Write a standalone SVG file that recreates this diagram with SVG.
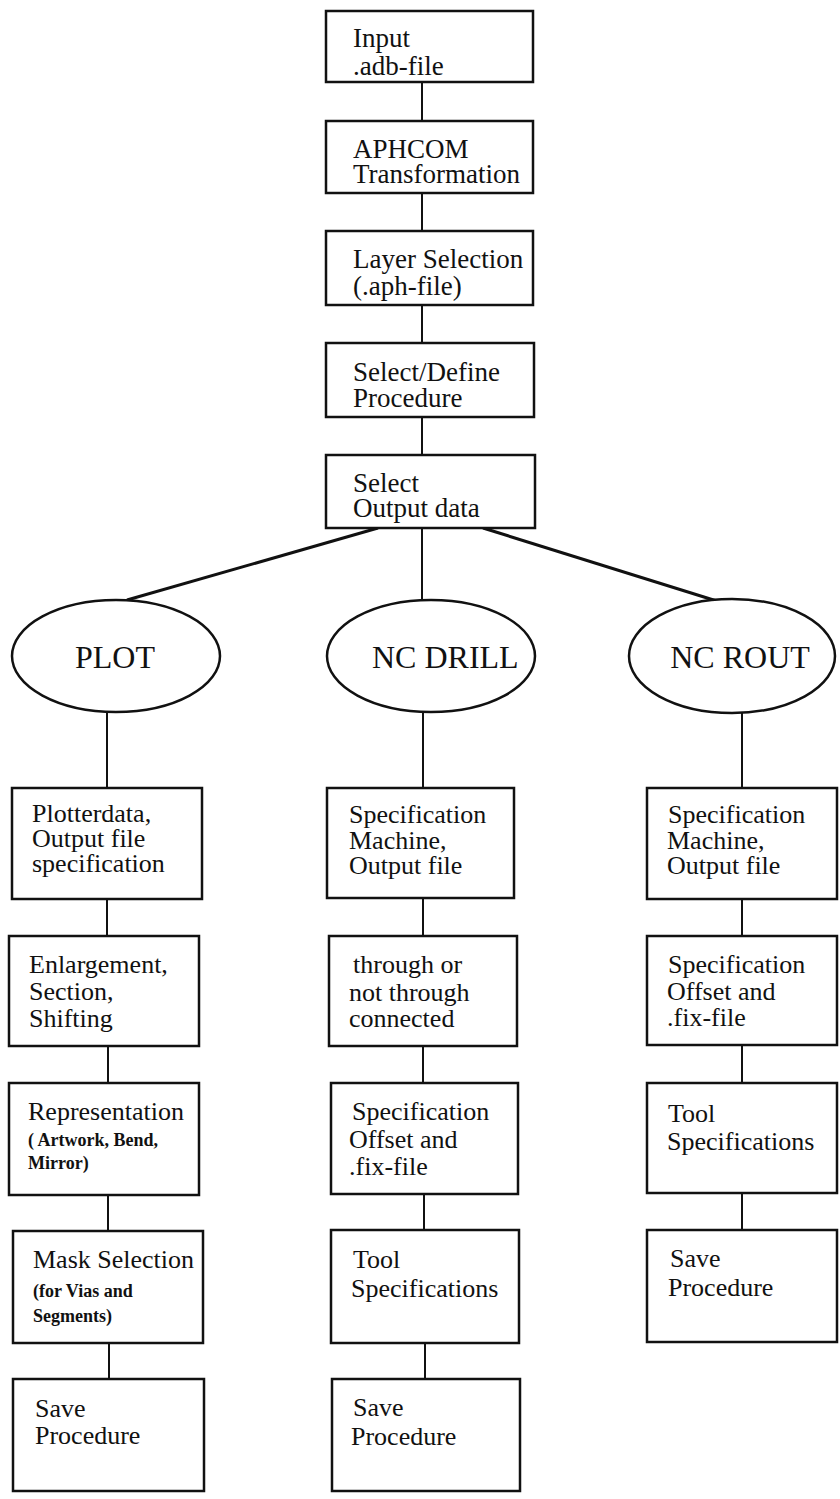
<svg xmlns="http://www.w3.org/2000/svg" width="840" height="1499" viewBox="0 0 840 1499">
<style>
.bg{fill:#fff}
.box{fill:#fff;stroke:#111;stroke-width:2.5}
.ell{fill:#fff;stroke:#111;stroke-width:2.5}
.ln{stroke:#111;stroke-width:2;fill:none}
.dg{stroke:#111;stroke-width:3;fill:none}
.h{font-family:"Liberation Serif","Times New Roman",serif;font-size:27px;fill:#111}
.t{font-family:"Liberation Serif","Times New Roman",serif;font-size:26px;fill:#111}
.e{font-family:"Liberation Serif","Times New Roman",serif;font-size:32px;fill:#111}
.s{font-family:"Liberation Serif","Times New Roman",serif;font-size:18px;font-weight:bold;fill:#111}
</style>
<rect class="bg" x="0" y="0" width="840" height="1499"/>
<g id="connectors">
<line class="ln" x1="422" y1="82" x2="422" y2="121"/>
<line class="ln" x1="422" y1="193" x2="422" y2="231"/>
<line class="ln" x1="422" y1="305" x2="422" y2="343"/>
<line class="ln" x1="422" y1="417" x2="422" y2="455"/>
<line class="dg" x1="378" y1="528" x2="127" y2="600"/>
<line class="ln" x1="422" y1="528" x2="422" y2="600"/>
<line class="dg" x1="483" y1="528" x2="720" y2="602"/>
<line class="ln" x1="107" y1="712" x2="107" y2="788"/>
<line class="ln" x1="107" y1="899" x2="107" y2="936"/>
<line class="ln" x1="108" y1="1046" x2="108" y2="1083"/>
<line class="ln" x1="108" y1="1195" x2="108" y2="1231"/>
<line class="ln" x1="109" y1="1343" x2="109" y2="1379"/>
<line class="ln" x1="423" y1="712" x2="423" y2="788"/>
<line class="ln" x1="423" y1="898" x2="423" y2="936"/>
<line class="ln" x1="423" y1="1046" x2="423" y2="1083"/>
<line class="ln" x1="424" y1="1194" x2="424" y2="1230"/>
<line class="ln" x1="425" y1="1343" x2="425" y2="1379"/>
<line class="ln" x1="742" y1="713" x2="742" y2="788"/>
<line class="ln" x1="742" y1="899" x2="742" y2="936"/>
<line class="ln" x1="742" y1="1045" x2="742" y2="1083"/>
<line class="ln" x1="742" y1="1193" x2="742" y2="1230"/>
</g>
<g id="n-input"><rect class="box" x="326" y="11" width="207" height="71"/><text class="h" x="353" y="47">Input</text><text class="h" x="353" y="75">.adb-file</text></g>
<g id="n-aphcom"><rect class="box" x="326" y="121" width="207" height="72"/><text class="h" x="353" y="158">APHCOM</text><text class="h" x="353" y="183">Transformation</text></g>
<g id="n-layer"><rect class="box" x="326" y="231" width="207" height="74"/><text class="h" x="353" y="268">Layer Selection</text><text class="h" x="353" y="295">(.aph-file)</text></g>
<g id="n-define"><rect class="box" x="326" y="343" width="208" height="74"/><text class="h" x="353" y="381">Select/Define</text><text class="h" x="353" y="407">Procedure</text></g>
<g id="n-select"><rect class="box" x="326" y="455" width="209" height="73"/><text class="h" x="353" y="492">Select</text><text class="h" x="353" y="517">Output data</text></g>
<g id="n-plot"><ellipse class="ell" cx="116" cy="656" rx="104" ry="56"/><text class="e" x="115" y="668" text-anchor="middle">PLOT</text></g>
<g id="n-drill"><ellipse class="ell" cx="431" cy="656" rx="104" ry="56"/><text class="e" x="372" y="668">NC DRILL</text></g>
<g id="n-rout"><ellipse class="ell" cx="732" cy="656" rx="103" ry="57"/><text class="e" x="740" y="668" text-anchor="middle">NC ROUT</text></g>
<g id="n-plotter"><rect class="box" x="12" y="788" width="190" height="111"/><text class="t" x="32" y="822">Plotterdata,</text><text class="t" x="32" y="847">Output file</text><text class="t" x="32" y="872">specification</text></g>
<g id="n-enlarge"><rect class="box" x="9" y="936" width="190" height="110"/><text class="t" x="29" y="973">Enlargement,</text><text class="t" x="29" y="1000">Section,</text><text class="t" x="29" y="1027">Shifting</text></g>
<g id="n-repr"><rect class="box" x="9" y="1083" width="190" height="112"/><text class="t" x="28" y="1120">Representation</text><text class="s" x="28" y="1146">( Artwork, Bend,</text><text class="s" x="28" y="1169">Mirror)</text></g>
<g id="n-mask"><rect class="box" x="13" y="1231" width="190" height="112"/><text class="t" x="33" y="1268">Mask Selection</text><text class="s" x="33" y="1297">(for Vias and</text><text class="s" x="33" y="1322">Segments)</text></g>
<g id="n-save1"><rect class="box" x="13" y="1379" width="191" height="112"/><text class="t" x="35" y="1417">Save</text><text class="t" x="35" y="1444">Procedure</text></g>
<g id="n-spec1"><rect class="box" x="327" y="788" width="187" height="110"/><text class="t" x="349" y="823">Specification</text><text class="t" x="349" y="849">Machine,</text><text class="t" x="349" y="874">Output file</text></g>
<g id="n-through"><rect class="box" x="329" y="936" width="188" height="110"/><text class="t" x="353" y="973">through or</text><text class="t" x="349" y="1001">not through</text><text class="t" x="349" y="1027">connected</text></g>
<g id="n-offset1"><rect class="box" x="331" y="1083" width="187" height="111"/><text class="t" x="352" y="1120">Specification</text><text class="t" x="349" y="1148">Offset and</text><text class="t" x="349" y="1175">.fix-file</text></g>
<g id="n-tool1"><rect class="box" x="331" y="1230" width="188" height="113"/><text class="t" x="353" y="1268">Tool</text><text class="t" x="351" y="1297">Specifications</text></g>
<g id="n-save2"><rect class="box" x="332" y="1379" width="188" height="112"/><text class="t" x="353" y="1416">Save</text><text class="t" x="351" y="1445">Procedure</text></g>
<g id="n-spec2"><rect class="box" x="647" y="788" width="190" height="111"/><text class="t" x="668" y="823">Specification</text><text class="t" x="667" y="849">Machine,</text><text class="t" x="667" y="874">Output file</text></g>
<g id="n-offset2"><rect class="box" x="647" y="936" width="190" height="109"/><text class="t" x="668" y="973">Specification</text><text class="t" x="667" y="1000">Offset and</text><text class="t" x="667" y="1026">.fix-file</text></g>
<g id="n-tool2"><rect class="box" x="647" y="1083" width="190" height="110"/><text class="t" x="668" y="1122">Tool</text><text class="t" x="667" y="1150">Specifications</text></g>
<g id="n-save3"><rect class="box" x="647" y="1230" width="190" height="112"/><text class="t" x="670" y="1267">Save</text><text class="t" x="668" y="1296">Procedure</text></g>
</svg>
